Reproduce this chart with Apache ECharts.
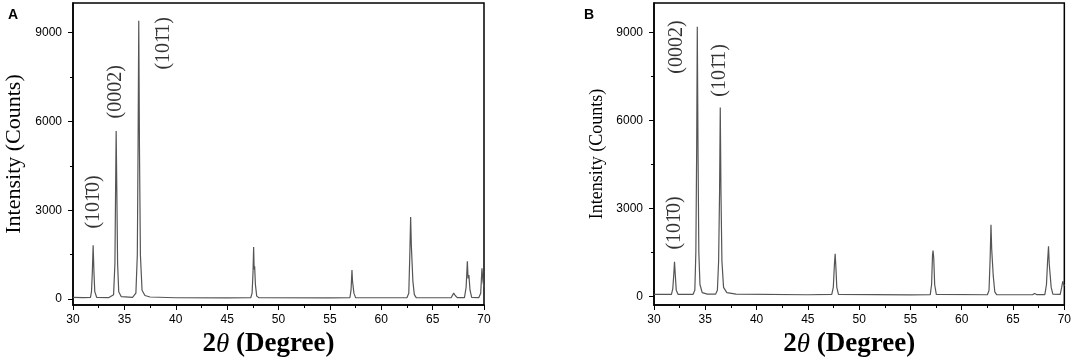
<!DOCTYPE html>
<html>
<head>
  <meta charset="UTF-8">
  <title>XRD patterns</title>
  <script src="https://cdn.jsdelivr.net/npm/echarts@6.0.0/dist/echarts.min.js"></script>
  <style>
    body { margin: 0; background: #fff; }
    #chart { width: 1074px; height: 363px; }
  </style>
</head>
<body>
  <div id="chart"></div>
  <script type="text/javascript">
    // panel A pattern, [2theta, counts]
    var patternA = [
      [30, 60], [31, 50], [31.7, 60], [31.8, 250], [31.88, 900], [31.96, 1820], [32.04, 900], [32.12, 250], [32.3, 60],
      [33.5, 50], [33.95, 150], [34.08, 1200], [34.14, 3500], [34.2, 5680], [34.27, 3500], [34.34, 1200], [34.45, 250], [34.7, 80],
      [35.8, 60], [36.12, 200], [36.26, 1500], [36.33, 5000], [36.4, 9400], [36.47, 5000], [36.56, 1500], [36.72, 300], [37, 120], [37.5, 70],
      [40, 45], [45, 40], [47.3, 45], [47.43, 200], [47.52, 900], [47.58, 1760], [47.63, 1000], [47.68, 1110], [47.75, 500], [47.88, 100], [48.1, 45],
      [55, 40], [56.95, 45], [57.06, 300], [57.15, 980], [57.2, 620], [57.26, 610], [57.34, 200], [57.5, 50],
      [62.5, 45], [62.68, 200], [62.78, 1500], [62.86, 2770], [62.93, 1800], [63.0, 1760], [63.08, 600], [63.22, 150], [63.4, 50],
      [66.8, 45], [67.05, 200], [67.2, 120], [67.4, 50],
      [68.1, 50], [68.26, 400], [68.38, 1280], [68.45, 700], [68.53, 810], [68.64, 300], [68.8, 60],
      [69.5, 50], [69.68, 200], [69.8, 1040], [69.9, 600], [70, 400]
    ];

    // panel B pattern
    var patternB = [
      [30, 60], [31.7, 60], [31.83, 250], [31.92, 700], [32.0, 1170], [32.08, 700], [32.17, 200], [32.35, 60],
      [33.8, 60], [33.98, 200], [34.08, 1500], [34.16, 5000], [34.22, 9190], [34.29, 5000], [34.37, 1500], [34.48, 400], [34.7, 120], [35.2, 70],
      [36.0, 70], [36.18, 200], [36.3, 1200], [36.39, 3500], [36.46, 6440], [36.53, 3500], [36.62, 1200], [36.78, 300], [37.1, 120], [38, 70],
      [45, 50], [47.33, 60], [47.48, 300], [47.59, 1100], [47.66, 1450], [47.73, 1000], [47.82, 300], [47.98, 60],
      [55, 45], [56.93, 55], [57.06, 400], [57.15, 1400], [57.2, 1560], [57.27, 1300], [57.36, 400], [57.52, 60],
      [62.5, 50], [62.66, 200], [62.77, 1300], [62.85, 2440], [62.92, 1600], [62.99, 1540], [63.07, 700], [63.22, 150], [63.4, 55],
      [66.9, 50], [67.1, 95], [67.3, 55],
      [68.1, 55], [68.26, 400], [68.37, 1200], [68.46, 1700], [68.53, 1100], [68.6, 1050], [68.72, 300], [68.88, 70],
      [69.6, 60], [69.74, 300], [69.85, 510], [69.95, 400], [70, 350]
    ];

    // peak labels (Miller-Bravais indices)
    var peakNames = ['(101\u03040)', '(0002)', '(101\u03041)'];
    var peakXA = [32.0, 34.2, 38.8];
    var peakYA = [3280, 7000, 8640];
    var peakXB = [32.0, 32.25, 36.4];
    var peakYB = [2500, 8500, 7700];

    var yMajor = [0, 3000, 6000, 9000];
    var yMinor = [1500, 4500, 7500];

    var serif = "'Liberation Serif', 'Times New Roman', serif";
    var sans = "'Liberation Sans', Arial, sans-serif";

    function peakLabels(xs, ys) {
      return xs.map(function (x, i) {
        return { name: peakNames[i], value: [x, ys[i]] };
      });
    }

    function xAxisFor(gridIndex) {
      return {
        type: 'value', gridIndex: gridIndex, min: 30, max: 70, interval: 5,
        name: '{n|2}{t|\u03b8}{n| (Degree)}', nameLocation: 'middle', nameGap: 26,
        nameTextStyle: {
          padding: [0, 20, 0, 0],
          rich: {
            n: { fontFamily: serif, fontWeight: 'bold', fontSize: 27, color: '#000' },
            t: { fontFamily: serif, fontStyle: 'italic', fontSize: 27, color: '#000' }
          }
        },
        axisLine: { onZero: false, lineStyle: { color: '#000', width: 1.5 } },
        axisTick: { length: 5, lineStyle: { color: '#000' } },
        minorTick: { show: true, splitNumber: 2, length: 3, lineStyle: { color: '#000' } },
        axisLabel: { fontFamily: sans, fontSize: 12, color: '#000', margin: 9 },
        splitLine: { show: false }
      };
    }

    function yAxisFor(gridIndex, min, nameSize) {
      return [{
        type: 'value', gridIndex: gridIndex, position: 'left', min: min, max: 10000,
        name: 'Intensity (Counts)', nameLocation: 'middle', nameGap: 48,
        nameTextStyle: { fontFamily: serif, fontSize: nameSize, color: '#000' },
        axisLine: { show: true, lineStyle: { color: '#000', width: 1.5 } },
        axisTick: { show: true, length: 5, customValues: yMajor, lineStyle: { color: '#000' } },
        axisLabel: {
          fontFamily: sans, fontSize: 12, color: '#000', margin: 11, customValues: yMajor,
          formatter: function (v) { return String(v); }
        },
        splitLine: { show: false }
      }, {
        type: 'value', gridIndex: gridIndex, position: 'left', offset: 0, min: min, max: 10000,
        axisLine: { show: false },
        axisTick: { show: true, length: 3, customValues: yMinor, lineStyle: { color: '#000' } },
        axisLabel: { show: false },
        splitLine: { show: false }
      }];
    }

    var labelStyle = {
      show: true, position: 'inside', rotate: 90, formatter: '{b}',
      fontFamily: serif, fontSize: 20, color: '#000'
    };

    var myChart = echarts.init(document.getElementById('chart'));
    var option = {
      animation: false,
      backgroundColor: '#fff',
      title: [
        { text: 'A', left: 3, top: 3, textStyle: { fontFamily: sans, fontWeight: 'bold', fontSize: 14, color: '#000' } },
        { text: 'B', left: 579, top: 3, textStyle: { fontFamily: sans, fontWeight: 'bold', fontSize: 14, color: '#000' } }
      ],
      grid: [
        { left: 73, right: 590, top: 3, bottom: 57, show: true, borderColor: '#000', borderWidth: 1.5 },
        { left: 654, right: 9, top: 3, bottom: 57, show: true, borderColor: '#000', borderWidth: 1.5 }
      ],
      xAxis: [xAxisFor(0), xAxisFor(1)],
      yAxis: yAxisFor(0, -200, 22).concat(yAxisFor(1, -300, 18)),
      series: [
        {
          type: 'line', xAxisIndex: 0, yAxisIndex: 0, data: patternA, showSymbol: false,
          lineStyle: { color: '#555', width: 1.2 }
        },
        {
          type: 'line', xAxisIndex: 1, yAxisIndex: 2, data: patternB, showSymbol: false,
          lineStyle: { color: '#555', width: 1.2 }
        },
        {
          type: 'scatter', xAxisIndex: 0, yAxisIndex: 0, symbolSize: 0,
          data: peakLabels(peakXA, peakYA), label: labelStyle
        },
        {
          type: 'scatter', xAxisIndex: 1, yAxisIndex: 2, symbolSize: 0,
          data: peakLabels(peakXB, peakYB), label: labelStyle
        }
      ]
    };
    myChart.setOption(option);
  </script>
</body>
</html>
